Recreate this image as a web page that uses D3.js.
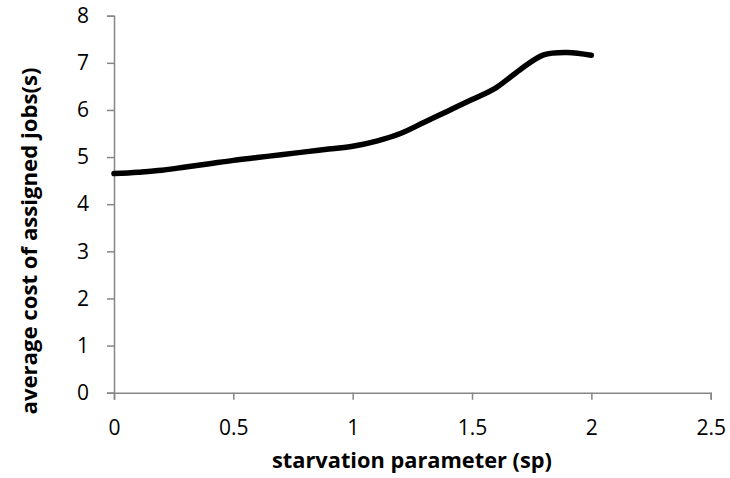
<!DOCTYPE html>
<html><head><meta charset="utf-8">
<script src="https://cdn.jsdelivr.net/npm/d3@7"></script>
<style>body{margin:0;background:#fff;} svg{display:block;}</style>
</head><body>
<svg id="chart" width="730" height="478"></svg>
<script>
const xValues = [0,0.1,0.2,0.3,0.4,0.5,0.6,0.7,0.8,0.9,1.0,1.1,1.2,1.3,1.4,1.5,1.6,1.7,1.8,1.9,2.0];
const yValues = [4.65,4.68,4.72,4.79,4.86,4.93,4.99,5.05,5.11,5.17,5.23,5.34,5.50,5.74,5.98,6.22,6.47,6.85,7.17,7.22,7.16];
const xTicks = [0,0.5,1,1.5,2,2.5];
const yTicks = [0,1,2,3,4,5,6,7,8];
const xTitle = "starvation parameter (sp)";
const yTitle = "average cost of assigned jobs(s)";

const svg = d3.select("#chart");
const font = "'Open Sans', 'Noto Sans', sans-serif";
const x = d3.scaleLinear().domain([0,2.5]).range([114,710.7]);
const y = d3.scaleLinear().domain([0,8]).range([392.7,15.7]);
const axisColor = "#868686";

const gx = svg.append("g").attr("transform",`translate(0,${y(0)})`)
  .call(d3.axisBottom(x).tickValues(xTicks).tickSize(7).tickPadding(20).tickFormat(d=>String(d)));
const gy = svg.append("g").attr("transform",`translate(${x(0)},0)`)
  .call(d3.axisLeft(y).tickValues(yTicks).tickSize(7).tickPadding(18).tickFormat(d=>String(d)));
[gx,gy].forEach(g=>{
  g.select(".domain").attr("stroke",axisColor).attr("stroke-width",1.5);
  g.selectAll(".tick line").attr("stroke",axisColor).attr("stroke-width",1.5);
  g.selectAll("text").attr("fill","#000").style("font-family",font).style("font-size","21px");
});

const data = xValues.map((v,i)=>({x:v,y:yValues[i]}));
svg.append("path").datum(data)
  .attr("fill","none").attr("stroke","#000").attr("stroke-width",5.5)
  .attr("stroke-linecap","round").attr("stroke-linejoin","round")
  .attr("d", d3.line().x(d=>x(d.x)).y(d=>y(d.y)).curve(d3.curveCatmullRom.alpha(0.5)));

svg.append("text").attr("x",412).attr("y",468).attr("text-anchor","middle")
  .attr("textLength",280).attr("lengthAdjust","spacingAndGlyphs")
  .style("font-family",font).style("font-size","21.5px").style("font-weight","bold").text(xTitle);
svg.append("text").attr("transform","translate(37,241) rotate(-90)").attr("text-anchor","middle")
  .attr("textLength",347).attr("lengthAdjust","spacingAndGlyphs")
  .style("font-family",font).style("font-size","21.5px").style("font-weight","bold").text(yTitle);
</script>
</body></html>
